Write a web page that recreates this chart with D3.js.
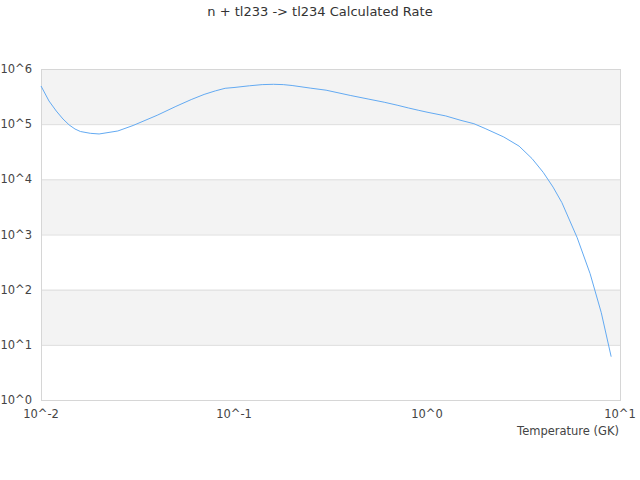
<!DOCTYPE html>
<html lang="en">
<head>
    <meta charset="UTF-8">
    <title>n + tl233 -> tl234 Calculated Rate</title>
    <script src="https://d3js.org/d3.v7.min.js"></script>
    <style>
        body { margin: 0; background: #fff; }
        svg text { font-family: "DejaVu Sans", sans-serif; fill: #444; }
        .title { font-size: 13px; fill: #333; }
        .tick_text { font-size: 11.5px; }
    </style>
</head>
<body>
<svg width="640" height="480"></svg>

<script>
    // temperature grid (GK) and rate
    const temps = [0.01, 0.011, 0.012, 0.013, 0.014, 0.015, 0.016, 0.018, 0.02, 0.025,
        0.03, 0.04, 0.05, 0.06, 0.07, 0.08, 0.09, 0.1, 0.12, 0.14,
        0.16, 0.18, 0.2, 0.25, 0.3, 0.4, 0.5, 0.6, 0.7, 0.8,
        0.9, 1, 1.25, 1.5, 1.75, 2, 2.5, 3, 3.5, 4,
        4.5, 5, 6, 7, 8, 9];
    const rates = [4.92e5, 2.63e5, 1.73e5, 1.24e5, 9.67e4, 8.17e4, 7.36e4, 6.83e4, 6.64e4, 7.52e4,
        9.46e4, 1.45e5, 2.10e5, 2.79e5, 3.46e5, 4.01e5, 4.47e5, 4.62e5, 4.96e5, 5.21e5,
        5.28e5, 5.21e5, 5.02e5, 4.49e5, 4.13e5, 3.32e5, 2.84e5, 2.50e5, 2.21e5, 1.97e5,
        1.79e5, 1.65e5, 1.41e5, 1.17e5, 1.02e5, 8.35e4, 5.85e4, 4.00e4, 2.38e4, 1.34e4,
        7.23e3, 3.78e3, 875, 195, 38.2, 6.1];

    const xTicks = [-2, -1, 0, 1];
    const yTicks = [0, 1, 2, 3, 4, 5, 6];

    const svg = d3.select("svg");
    const plotLeft = 41, plotRight = 620, plotTop = 69, plotBottom = 400;

    const x = d3.scaleLog().domain([0.01, 10]).range([plotLeft, plotRight]);
    const y = d3.scaleLog().domain([1, 1e6]).range([plotBottom, plotTop]);

    // alternating bands
    svg.append("g").selectAll("rect")
        .data(yTicks.slice(0, -1).filter(function (d) { return (6 - d) % 2 === 1; }))
        .enter().append("rect")
        .attr("x", plotLeft)
        .attr("width", plotRight - plotLeft)
        .attr("y", function (d) { return y(Math.pow(10, d + 1)); })
        .attr("height", function (d) { return y(Math.pow(10, d)) - y(Math.pow(10, d + 1)); })
        .attr("fill", "#f3f3f3");

    // grid lines
    svg.append("g").selectAll("line")
        .data(yTicks)
        .enter().append("line")
        .attr("x1", plotLeft).attr("x2", plotRight)
        .attr("y1", function (d) { return y(Math.pow(10, d)) + 0.5; })
        .attr("y2", function (d) { return y(Math.pow(10, d)) + 0.5; })
        .attr("stroke", "#dddddd");

    // plot border
    svg.append("rect")
        .attr("x", plotLeft + 0.5).attr("y", plotTop + 0.5)
        .attr("width", plotRight - plotLeft).attr("height", plotBottom - plotTop)
        .attr("fill", "none")
        .attr("stroke", "#d6d6d6");

    // y tick labels
    svg.append("g").selectAll("text")
        .data(yTicks)
        .enter().append("text")
        .attr("class", "tick_text")
        .attr("x", 32)
        .attr("y", function (d) { return y(Math.pow(10, d)); })
        .attr("dy", "0.35em")
        .attr("text-anchor", "end")
        .text(function (d) { return "10^" + d; });

    // x tick labels
    svg.append("g").selectAll("text")
        .data(xTicks)
        .enter().append("text")
        .attr("class", "tick_text")
        .attr("x", function (d) { return x(Math.pow(10, d)); })
        .attr("y", 418)
        .attr("text-anchor", "middle")
        .text(function (d) { return "10^" + d; });

    svg.append("text")
        .attr("class", "tick_text")
        .attr("x", 619)
        .attr("y", 435)
        .attr("text-anchor", "end")
        .text("Temperature (GK)");

    svg.append("text")
        .attr("class", "title")
        .attr("x", 320)
        .attr("y", 16)
        .attr("text-anchor", "middle")
        .text("n + tl233 -> tl234 Calculated Rate");

    // rate curve
    const line = d3.line()
        .x(function (d, i) { return x(temps[i]); })
        .y(function (d) { return y(d); });

    svg.append("path")
        .datum(rates)
        .attr("d", line)
        .attr("fill", "none")
        .attr("stroke", "#63aaf2")
        .attr("stroke-width", 1);
</script>
</body>
</html>
